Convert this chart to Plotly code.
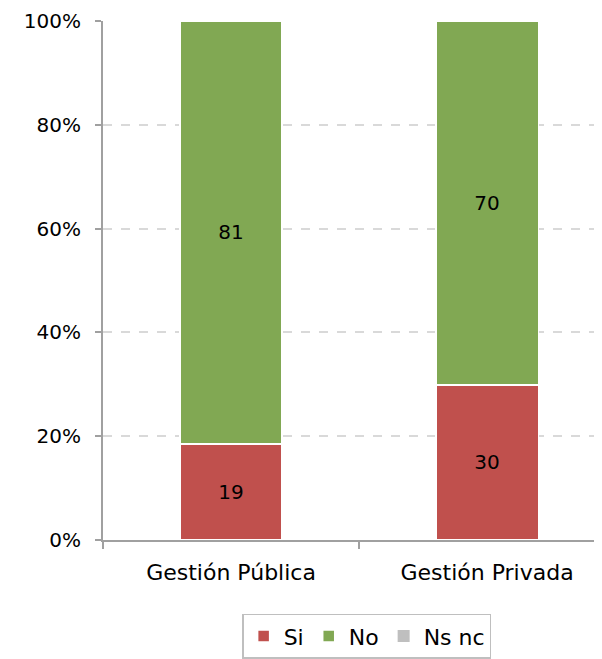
import plotly.graph_objects as go

categorias = ["Gestión Pública", "Gestión Privada"]
si = [18.5, 29.9]
no = [81.5, 70.1]
ns_nc = [0, 0]
si_txt = ["19", "30"]
no_txt = ["81", "70"]
y_ticks = [0, 20, 40, 60, 80, 100]
y_labels = ["0%", "20%", "40%", "60%", "80%", "100%"]

fig = go.Figure()
fig.add_trace(go.Bar(x=categorias, y=si, name="Si", text=si_txt,
                     marker=dict(color="#c0504d", line=dict(color="white", width=1.5))))
fig.add_trace(go.Bar(x=categorias, y=no, name="No", text=no_txt,
                     marker=dict(color="#81a853", line=dict(color="white", width=1.5))))
fig.add_trace(go.Bar(x=categorias, y=ns_nc, name="Ns nc",
                     marker=dict(color="#bfbfbf", line=dict(width=0))))

fig.update_traces(textposition="inside", insidetextanchor="middle",
                  textfont=dict(color="black", size=20), width=0.4)

# la página añade 8px de margen, se compensa aquí
fig.update_layout(
    barmode="stack",
    width=602, height=659,
    autosize=False,
    margin=dict(l=95, r=0, t=13, b=127, autoexpand=False),
    paper_bgcolor="white", plot_bgcolor="white",
    font=dict(family="DejaVu Sans, sans-serif", size=20, color="black"),
    showlegend=True,
    legend=dict(orientation="h", x=0.52, xanchor="center", y=-0.142, yanchor="top",
                bordercolor="#bfbfbf", borderwidth=1.5, font=dict(size=22),
                traceorder="normal", itemwidth=30),
)
fig.update_xaxes(range=[-0.5, 1.48], showline=True, linecolor="#a0a0a0", linewidth=2,
                 ticks="outside", tickson="boundaries", ticklen=7, tickcolor="#a0a0a0",
                 tickwidth=2, showgrid=False, tickfont=dict(size=22), automargin=False,
                 ticklabelstandoff=12)
fig.update_yaxes(range=[0, 100], tickmode="array", tickvals=y_ticks, ticktext=y_labels,
                 showline=True, linecolor="#a0a0a0", linewidth=2, ticks="outside",
                 ticklen=6, tickcolor="#a0a0a0", tickwidth=2,
                 showgrid=True, gridcolor="#d9d9d9", griddash="dash", gridwidth=1.5,
                 zeroline=False, tickfont=dict(size=20), automargin=False,
                 ticklabelstandoff=10)

fig.write_html("out.html")
